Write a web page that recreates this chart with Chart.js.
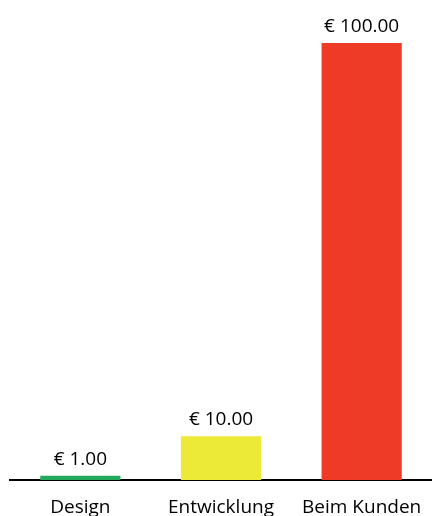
<!DOCTYPE html>
<html>
<head>
<meta charset="utf-8">
<script src="https://cdn.jsdelivr.net/npm/chart.js@4"></script>
<style>
  html, body { margin: 0; padding: 0; background: #fff; }
  #wrap { width: 432px; height: 516px; }
</style>
</head>
<body>
<div id="wrap"><canvas id="chart"></canvas></div>
<script>
const categories = ['Design', 'Entwicklung', 'Beim Kunden'];
const costs = [1, 10, 100];
const barColors = ['#22a95b', '#ecea36', '#ee3b27'];

// Beschriftung über den Balken
const valueLabels = {
    id: 'valueLabels',
    afterDatasetsDraw(chart) {
        const ctx = chart.ctx;
        const meta = chart.getDatasetMeta(0);
        ctx.save();
        ctx.font = '500 19px "Open Sans"';
        ctx.fillStyle = '#000';
        ctx.textAlign = 'center';
        ctx.textBaseline = 'alphabetic';
        meta.data.forEach((bar, i) => {
            ctx.fillText('€ ' + costs[i].toFixed(2), bar.x, bar.y - 11);
        });
        ctx.restore();
    }
};

new Chart(document.getElementById('chart'), {
    type: 'bar',
    data: {
        labels: categories,
        datasets: [{
            data: costs,
            backgroundColor: barColors,
            barPercentage: 0.57,
            categoryPercentage: 1
        }]
    },
    options: {
        responsive: true,
        maintainAspectRatio: false,
        animation: false,
        layout: { padding: { top: 43, left: 10, right: 0, bottom: 0 } },
        plugins: { legend: { display: false }, tooltip: { enabled: false } },
        scales: {
            x: {
                grid: { display: false },
                border: { display: true, color: '#000', width: 2 },
                ticks: { color: '#000', font: { family: 'Open Sans', size: 19, weight: 500 }, padding: 8 },
                afterFit(scale) { scale.height = 36; }
            },
            y: { display: false, min: 0, max: 100 }
        }
    },
    plugins: [valueLabels]
});
</script>
</body>
</html>
